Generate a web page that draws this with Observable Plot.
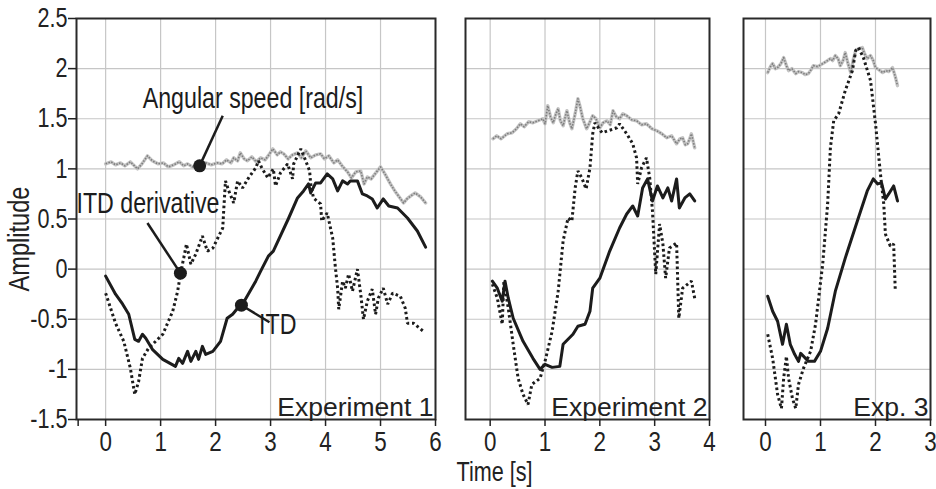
<!DOCTYPE html>
<html><head><meta charset="utf-8">
<script src="https://cdn.jsdelivr.net/npm/d3@7"></script>
<script src="https://cdn.jsdelivr.net/npm/@observablehq/plot@0.6"></script>
<style>
body{margin:0;background:#fff;}
#chart{position:relative;width:936px;height:489px;overflow:hidden;background:#fff;}
#chart svg{position:absolute;top:0;overflow:visible;background:transparent;}
</style></head><body><div id="chart"></div>
<script>
// ---------- Experiment 1 ----------
const e1ItdX = [0,0.18,0.31,0.42,0.53,0.6,0.67,0.73,0.85,1.04,1.27,1.33,1.4,1.49,1.55,1.64,1.69,1.76,1.82,1.95,2.09,2.21,2.31,2.4,2.49,2.73,2.82,2.96,3.05,3.33,3.49,3.6,3.69,3.73,3.82,3.91,4.03,4.13,4.22,4.31,4.4,4.45,4.58,4.67,4.76,4.85,4.94,5.05,5.15,5.31,5.49,5.67,5.82];
const e1ItdY = [-0.07,-0.25,-0.35,-0.45,-0.70,-0.72,-0.65,-0.69,-0.80,-0.90,-0.97,-0.89,-0.94,-0.82,-0.92,-0.82,-0.90,-0.77,-0.85,-0.82,-0.72,-0.49,-0.45,-0.39,-0.35,-0.12,-0.02,0.13,0.18,0.51,0.71,0.78,0.85,0.76,0.86,0.86,0.95,0.90,0.78,0.88,0.85,0.88,0.88,0.75,0.73,0.70,0.61,0.70,0.63,0.61,0.51,0.38,0.22];
const e1DerX = [0,0.18,0.33,0.45,0.53,0.6,0.67,0.78,1.04,1.22,1.31,1.36,1.42,1.47,1.55,1.64,1.76,1.85,1.95,2.13,2.15,2.18,2.24,2.33,2.4,2.49,2.6,2.73,2.78,2.84,2.95,3.05,3.09,3.18,3.31,3.4,3.42,3.55,3.64,3.71,3.73,3.78,3.91,3.93,4.03,4.13,4.18,4.22,4.24,4.31,4.36,4.42,4.49,4.58,4.64,4.69,4.76,4.85,4.91,4.96,5.05,5.13,5.22,5.36,5.45,5.49,5.6,5.78];
const e1DerY = [-0.24,-0.54,-0.72,-0.99,-1.25,-1.12,-0.89,-0.79,-0.65,-0.42,-0.22,-0.05,0.11,0.25,0.05,0.15,0.33,0.18,0.21,0.41,0.61,0.88,0.78,0.66,0.88,0.81,0.91,1.01,1.08,1.01,0.91,1.00,0.83,0.96,1.05,0.90,1.05,1.20,1.08,0.98,0.85,0.71,0.65,0.48,0.56,0.31,0.01,-0.19,-0.40,-0.12,-0.19,-0.05,-0.22,0.00,-0.25,-0.50,-0.32,-0.20,-0.45,-0.29,-0.19,-0.35,-0.24,-0.27,-0.39,-0.54,-0.54,-0.62];
const e1SpdX = [0,0.1,0.18,0.27,0.35,0.45,0.58,0.66,0.76,0.85,0.95,1.05,1.14,1.24,1.34,1.42,1.49,1.58,1.66,1.73,1.82,1.92,2.03,2.12,2.2,2.28,2.33,2.4,2.45,2.52,2.58,2.66,2.74,2.82,2.9,2.97,3.04,3.12,3.18,3.24,3.32,3.4,3.49,3.56,3.64,3.73,3.82,3.91,3.98,4.06,4.15,4.22,4.3,4.4,4.47,4.55,4.64,4.7,4.76,4.83,4.9,5.0,5.08,5.18,5.26,5.34,5.42,5.48,5.55,5.63,5.73,5.82];
const e1SpdY = [1.05,1.07,1.04,1.06,1.03,1.07,1.0,1.05,1.13,1.08,1.05,1.06,1.02,1.04,1.07,1.03,1.05,1.02,1.04,1.03,1.06,1.04,1.06,1.05,1.09,1.06,1.11,1.08,1.16,1.10,1.08,1.12,1.07,1.11,1.09,1.14,1.20,1.14,1.17,1.15,1.10,1.14,1.16,1.11,1.18,1.11,1.14,1.15,1.10,1.13,1.06,1.09,1.03,0.97,0.91,0.97,0.98,0.85,0.92,0.90,0.95,1.02,0.95,0.85,0.78,0.72,0.66,0.70,0.73,0.76,0.72,0.66];

// ---------- Experiment 2 ----------
const e2ItdX = [0.04,0.13,0.22,0.27,0.33,0.42,0.6,0.78,0.91,1.0,1.13,1.27,1.33,1.42,1.51,1.6,1.73,1.82,1.87,2.0,2.18,2.36,2.49,2.6,2.69,2.78,2.87,2.96,3.05,3.15,3.24,3.31,3.4,3.45,3.55,3.64,3.73];
const e2ItdY = [-0.12,-0.19,-0.32,-0.12,-0.29,-0.49,-0.72,-0.89,-1.0,-0.95,-0.98,-0.97,-0.75,-0.70,-0.65,-0.57,-0.55,-0.42,-0.19,-0.09,0.18,0.41,0.55,0.63,0.53,0.81,0.90,0.68,0.83,0.71,0.81,0.68,0.90,0.61,0.71,0.75,0.68];
const e2DerX = [0.04,0.13,0.22,0.25,0.33,0.42,0.51,0.6,0.69,0.76,0.91,1.0,1.13,1.24,1.33,1.42,1.49,1.55,1.6,1.67,1.75,1.82,1.87,1.91,2.04,2.15,2.31,2.36,2.49,2.6,2.67,2.69,2.76,2.85,2.91,2.96,3.02,3.09,3.15,3.2,3.27,3.4,3.44,3.51,3.67,3.73];
const e2DerY = [-0.15,-0.29,-0.55,-0.12,-0.39,-0.75,-1.09,-1.25,-1.35,-1.15,-1.09,-0.92,-0.62,-0.22,0.28,0.51,0.48,0.81,0.98,0.91,0.80,1.01,1.35,1.46,1.36,1.38,1.41,1.45,1.35,1.25,1.11,0.85,1.01,1.11,0.91,0.58,-0.05,0.45,0.25,-0.09,0.21,0.26,-0.49,-0.19,-0.12,-0.29];
const e2SpdX = [0.05,0.12,0.2,0.31,0.4,0.48,0.55,0.62,0.7,0.78,0.87,0.96,1.0,1.05,1.1,1.15,1.2,1.24,1.28,1.33,1.37,1.4,1.45,1.49,1.55,1.6,1.64,1.69,1.76,1.82,1.87,1.93,2.0,2.06,2.13,2.19,2.24,2.3,2.36,2.42,2.49,2.58,2.67,2.76,2.85,2.95,3.04,3.13,3.22,3.31,3.4,3.46,3.51,3.56,3.6,3.64,3.67,3.73];
const e2SpdY = [1.30,1.33,1.30,1.35,1.36,1.40,1.45,1.42,1.47,1.46,1.48,1.50,1.45,1.63,1.52,1.46,1.55,1.60,1.48,1.43,1.52,1.58,1.46,1.40,1.55,1.70,1.62,1.50,1.40,1.47,1.53,1.50,1.41,1.46,1.48,1.44,1.58,1.52,1.50,1.55,1.53,1.49,1.48,1.44,1.45,1.40,1.38,1.35,1.31,1.33,1.25,1.30,1.31,1.24,1.25,1.30,1.35,1.21];

// ---------- Experiment 3 ----------
const e3ItdX = [0.04,0.13,0.22,0.31,0.38,0.45,0.53,0.6,0.64,0.78,0.89,1.0,1.13,1.27,1.45,1.67,1.85,1.96,2.04,2.11,2.18,2.24,2.33,2.4];
const e3ItdY = [-0.27,-0.42,-0.52,-0.75,-0.55,-0.75,-0.85,-0.92,-0.84,-0.92,-0.92,-0.82,-0.59,-0.22,0.11,0.48,0.78,0.90,0.85,0.86,0.70,0.75,0.83,0.68];
const e3DerX = [0.04,0.13,0.22,0.29,0.33,0.38,0.42,0.49,0.55,0.6,0.69,0.82,0.91,1.04,1.13,1.18,1.24,1.33,1.45,1.58,1.64,1.69,1.78,1.91,2.0,2.09,2.15,2.18,2.27,2.33,2.36];
const e3DerY = [-0.65,-0.89,-1.25,-1.39,-1.09,-0.87,-1.09,-1.29,-1.39,-1.15,-0.99,-0.82,-0.55,0.05,0.65,1.21,1.48,1.55,1.78,1.98,2.18,2.21,2.11,1.88,1.45,0.95,0.65,0.35,0.23,0.25,-0.22];
const e3SpdX = [0.04,0.09,0.13,0.18,0.22,0.28,0.33,0.38,0.42,0.48,0.55,0.6,0.67,0.72,0.78,0.83,0.87,0.95,1.04,1.1,1.18,1.22,1.27,1.32,1.36,1.41,1.45,1.5,1.55,1.6,1.64,1.7,1.76,1.8,1.85,1.91,1.96,2.0,2.06,2.13,2.19,2.24,2.31,2.36,2.4];
const e3SpdY = [1.96,2.02,2.05,2.0,2.01,2.05,2.11,2.03,1.98,2.0,1.95,1.97,1.96,1.94,1.95,1.99,2.03,2.02,2.05,2.07,2.10,2.08,2.13,2.10,2.03,2.08,2.16,2.05,1.96,2.10,2.18,2.20,2.21,2.15,2.10,2.13,2.08,2.01,1.99,1.96,1.98,1.97,2.01,1.92,1.83];

// ---------- axes / labels ----------
const yTicks = [-1.5,-1,-0.5,0,0.5,1,1.5,2,2.5];
const yTickLabels = ["-1.5","-1","-0.5","0","0.5","1","1.5","2","2.5"];
const panelTitles = ["Experiment 1","Experiment 2","Exp. 3"];
const panelXDomains = [[-0.53,6],[-0.45,4],[-0.4,3]];
const panelXTicks = [[-0.5,0,1,2,3,4,5,6],[0,1,2,3,4],[0,1,2,3]];
const xAxisTitle = "Time [s]";
const yAxisTitle = "Amplitude";

// annotations (experiment 1), data coordinates
const annoLabels = ["Angular speed [rad/s]","ITD derivative","ITD"];
const annoTextX = [2.68,0.77,3.13];
const annoTextY = [1.70,0.65,-0.55];
const annoLineX = [2.13,0.76,2.98];
const annoLineY = [1.53,0.46,-0.53];
const annoDotX = [1.71,1.36,2.47];
const annoDotY = [1.03,-0.04,-0.36];

const FONT = '"Liberation Sans",Arial,Helvetica,sans-serif';
const CONDENSE = 0.8; // the reference lettering is narrow

const pts = (xs, ys) => xs.map((x, i) => ({x, y: ys[i]}));

const panels = [
  {itd: pts(e1ItdX,e1ItdY), der: pts(e1DerX,e1DerY), spd: pts(e1SpdX,e1SpdY), left: 0, width: 440, ml: 76, mr: 5},
  {itd: pts(e2ItdX,e2ItdY), der: pts(e2DerX,e2DerY), spd: pts(e2SpdX,e2SpdY), left: 440, width: 280, ml: 25, mr: 11},
  {itd: pts(e3ItdX,e3ItdY), der: pts(e3DerX,e3DerY), spd: pts(e3SpdX,e3SpdY), left: 720, width: 216, ml: 23, mr: 6}
];

const chart = document.getElementById("chart");

panels.forEach((p, k) => {
  const ink = "#1c1c1c";
  const marks = [
    Plot.gridX(panelXTicks[k].filter(t => t >= 0), {stroke: "#c6c6c6", strokeOpacity: 1, strokeWidth: 1.2}),
    Plot.gridY(yTicks, {stroke: "#c6c6c6", strokeOpacity: 1, strokeWidth: 1.2}),
    Plot.line(p.spd, {x: "x", y: "y", stroke: "#c4c4c4", strokeWidth: 3.4}),
    Plot.line(p.spd, {x: "x", y: "y", stroke: "#7d7d7d", strokeWidth: 1.6, strokeDasharray: "1.5,1.5", strokeLinecap: "butt"}),
    Plot.line(p.der, {x: "x", y: "y", stroke: ink, strokeWidth: 3, strokeDasharray: "2.6,2.8", strokeLinecap: "butt", strokeLinejoin: "miter"}),
    Plot.line(p.itd, {x: "x", y: "y", stroke: ink, strokeWidth: 3}),
    Plot.frame({stroke: "#2a2a2a", strokeWidth: 2}),
    Plot.axisX(panelXTicks[k], {tickSize: 7, tickPadding: 5, fontSize: 28, fontFamily: FONT, stroke: "#222", strokeWidth: 1.5,
      tickFormat: d => d < 0 ? "" : String(d), label: null}),
    Plot.text([panelTitles[k]], {frameAnchor: "bottom-right", textAnchor: "end", lineAnchor: "bottom", fontSize: 26.5, fontFamily: FONT, fill: "#222", dx: -2, dy: -4})
  ];
  if (k === 0) {
    const idx = annoLabels.map((_, i) => i);
    marks.push(
      Plot.axisY(yTicks, {tickSize: 8, tickPadding: 1, fontSize: 27, fontFamily: FONT, stroke: "#222", strokeWidth: 1.5,
        tickFormat: d => yTickLabels[yTicks.indexOf(d)], label: null}),
      Plot.link(idx, {x1: i => annoLineX[i], y1: i => annoLineY[i], x2: i => annoDotX[i], y2: i => annoDotY[i], stroke: ink, strokeWidth: 2.5}),
      Plot.dot(idx, {x: i => annoDotX[i], y: i => annoDotY[i], r: 6.5, fill: ink, stroke: "none"}),
      Plot.text(idx, {x: i => annoTextX[i], y: i => annoTextY[i], text: i => annoLabels[i],
        textAnchor: i => i === 2 ? "start" : "middle", fontSize: 29, fontFamily: FONT, fill: ink}),
      Plot.text([yAxisTitle], {frameAnchor: "left", textAnchor: "middle", lineAnchor: "middle", rotate: -90, dx: -57, dy: 20, fontSize: 29.5, fontFamily: FONT, fill: "#222"})
    );
  }
  if (k === 1) {
    marks.push(Plot.text([xAxisTitle], {frameAnchor: "bottom", textAnchor: "middle", lineAnchor: "middle", dx: -93, dy: 53, fontSize: 27, fontFamily: FONT, fill: "#222"}));
  }
  const svg = Plot.plot({
    width: p.width, height: 489,
    marginLeft: p.ml, marginRight: p.mr, marginTop: 18, marginBottom: 70,
    x: {domain: panelXDomains[k]},
    y: {domain: [-1.5, 2.5], axis: k === 0 ? undefined : null},
    style: {background: "transparent", overflow: "visible", color: "#222"},
    marks
  });
  // condense lettering horizontally (except the panel titles, which are regular width)
  svg.querySelectorAll("text").forEach(t => {
    const tr = t.getAttribute("transform");
    if (tr && tr.includes("translate") && !panelTitles.includes(t.textContent)) {
      t.setAttribute("transform", tr + ` scale(${CONDENSE},1)`);
    }
  });
  svg.style.left = p.left + "px";
  chart.appendChild(svg);
});
</script>
</body></html>
